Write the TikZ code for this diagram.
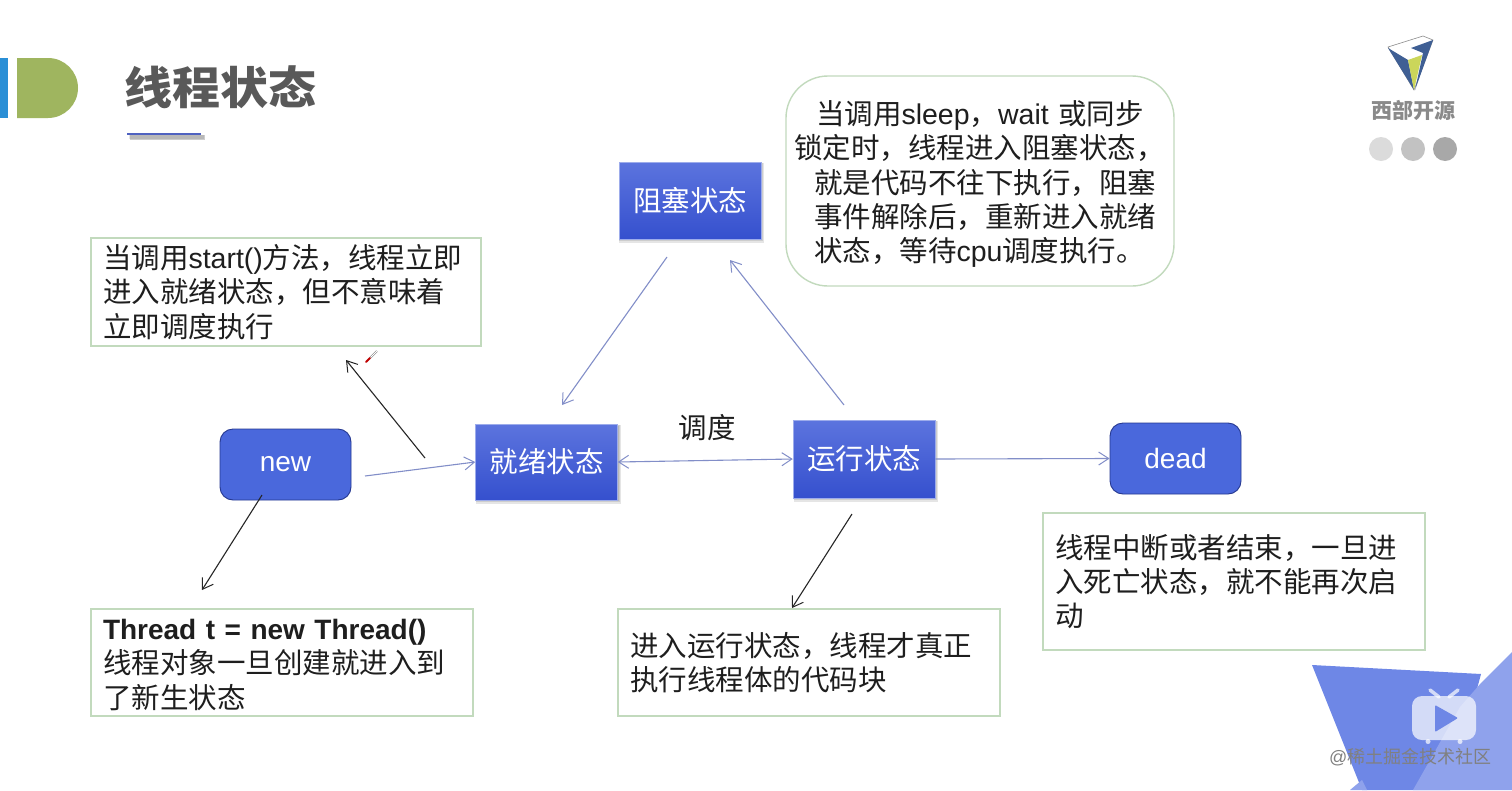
\documentclass[tikz,border=0pt]{standalone}
\usepackage{fontspec}
\setmainfont{Noto Sans CJK SC}
\newfontfamily\lat{Liberation Sans}
\newcommand{\la}[1]{{\lat #1}}
\usetikzlibrary{arrows.meta,calc}
\definecolor{boxline}{HTML}{C2DABD}
\definecolor{flow}{HTML}{828EC8}
\definecolor{txt}{HTML}{1E1E1E}
\definecolor{blueT}{HTML}{5C74DE}
\definecolor{blueB}{HTML}{3550CE}
\definecolor{blueF}{HTML}{4A68DC}
\definecolor{cornerA}{HTML}{6E87E6}
\definecolor{cornerB}{HTML}{8FA2EC}
\definecolor{barblue}{HTML}{2A8FD6}
\definecolor{bargreen}{HTML}{9FB55F}
\definecolor{titlegray}{HTML}{595959}
\definecolor{rule}{HTML}{4F62C0}
\definecolor{logoblue}{HTML}{3F5F94}
\definecolor{logoyellow}{HTML}{CBD65A}
\definecolor{logogray}{HTML}{8A8A8A}
\newcommand{\softshadow}[4]{%
  \foreach \g in {0,1,2,3}{\fill[black,opacity=.1] ({#1+3-\g*.8},{#2+3-\g*.8}) rectangle ({#3+\g*1.0},{#4+\g*1.2});}}
\tikzset{
  barb/.tip={Straight Barb[length=10pt,width=13pt,line width=1pt]},
  flowline/.style={-barb,draw=flow,line width=1.1pt},
  blackline/.style={-barb,draw=black!85,line width=1.1pt},
  statebox/.style={draw=blueT!60,line width=.5pt,top color=blueT,bottom color=blueB,text=white,inner sep=0pt,
     font=\fontsize{28.5}{32}\selectfont,minimum width=142pt,minimum height=77pt},
  roundbox/.style={draw=blueB!70!black,line width=.9pt,fill=blueF,rounded corners=13pt,text=white,inner sep=0pt,
     font=\lat\fontsize{28}{32}\selectfont,minimum width=131pt,minimum height=71pt},
  notebox/.style={draw=boxline,line width=1.4pt,fill=white,align=left,text=txt,inner sep=0pt,
     font=\fontsize{28.5}{34.3}\selectfont},
}
\begin{document}
\begin{tikzpicture}[x=1pt,y=-1pt]
\useasboundingbox (0,0) rectangle (1512,790);
\fill[white] (0,0) rectangle (1512,790);
% header marks
\fill[barblue] (0,58) rectangle (8,118);
\fill[bargreen] (17,58) -- (48,58) arc[start angle=90,end angle=-90,x radius=30,y radius=-30] -- (17,118) -- cycle;
\node[font=\bfseries\fontsize{48}{50}\selectfont,text=titlegray,inner sep=0pt] (title) at (220,87) {\scalebox{1}[.93]{线程状态}};
\foreach \g in {0,1,2}{\fill[black,opacity=.1] ({129+\g*.5},{135-\g*.2}) rectangle ({204+\g*.6},{139+\g*.6});}
\draw[rule,line width=2.2pt] (127,134) -- (201,134);
% logo
\draw[black!45,line width=.6pt,fill=white] (1388,47) -- (1423,36) -- (1433,40) -- (1414,90) -- cycle;
\fill[logoblue] (1388,48) -- (1408,60) -- (1414,90) -- cycle;
\fill[logoyellow] (1408,60) -- (1422,55) -- (1414,90) -- cycle;
\fill[logoblue] (1411,48) -- (1433,40) -- (1415,90) -- (1423,53) -- cycle;
\node[font=\bfseries\fontsize{21}{22}\selectfont,text=logogray,inner sep=0pt] (logotext) at (1413,110) {西部开源};
\fill[black!14] (1381,149) circle[radius=12];
\fill[black!24] (1413,149) circle[radius=12];
\fill[black!34] (1445,149) circle[radius=12];
% corner decoration
\fill[cornerA] (1312,665) -- (1481,674) -- (1450,790) -- (1362,790) -- cycle;
\fill[cornerB] (1512,652) -- (1481,683) -- (1460,707) -- (1413,790) -- (1512,790) -- cycle;
\fill[cornerB] (1350,790) -- (1362,780) -- (1367,790) -- cycle;
\draw[white,opacity=.7,line width=3.5pt,line cap=round] (1430,690) -- (1439,697) (1458,690) -- (1449,697);
\fill[white,opacity=.7,rounded corners=10pt] (1412,696) rectangle (1476,740);
\fill[white,opacity=.7] (1428,741.5) circle[radius=2.5] (1460,741.5) circle[radius=2.5];
\fill[cornerA,rounded corners=1pt] (1435,705) -- (1458,718) -- (1435,732) -- cycle;
\node[font=\fontsize{18}{20}\selectfont,text=black!50,inner sep=0pt,anchor=west] (mark) at (1329,757) {\la{@}稀土掘金技术社区};
% shadows
\softshadow{618}{162}{761}{239}
\softshadow{475}{424}{618}{500}
\softshadow{793}{420}{935}{498}
% states
\node[statebox] (block) at (690,200.5) {阻塞状态};
\node[statebox,minimum height=76pt] (ready) at (546.5,462) {就绪状态};
\node[statebox,minimum height=78pt] (run) at (864,459) {运行状态};
\node[roundbox] (new) at (285.5,464.5) {new};
\node[roundbox] (dead) at (1175.5,458.5) {dead};
\node[font=\fontsize{28.5}{32}\selectfont,text=txt,inner sep=0pt] (sched) at (707,428) {调度};
% notes
\node[notebox,minimum width=390pt,minimum height=108pt,text width=366pt] (nstart) at (286,292)
  {当调用\la{start()}方法，线程立即\\进入就绪状态，但不意味着\\立即调度执行};
\node[notebox,minimum width=382pt,minimum height=107pt,text width=358pt] (nthread) at (282,662.5)
  {\rule{0pt}{25pt}{\lat\bfseries\fontsize{28}{34}\selectfont Thread t = new Thread()}\\线程对象一旦创建就进入到\\了新生状态};
\node[notebox,minimum width=382pt,minimum height=107pt,text width=358pt] (nrun) at (809,662.5)
  {进入运行状态，线程才真正\\执行线程体的代码块};
\node[notebox,minimum width=382pt,minimum height=137pt,text width=358pt] (ndead) at (1234,581.5)
  {线程中断或者结束，一旦进\\入死亡状态，就不能再次启\\动};
\node[notebox,rounded corners=42pt,minimum width=388pt,minimum height=210pt,text width=372pt] (nblock) at (980,181)
  {\rule{0pt}{30pt}\hspace*{22pt}当调用\la{sleep}，\la{wait} 或同步\\锁定时，线程进入阻塞状态，\\\hspace*{20pt}就是代码不往下执行，阻塞\\\hspace*{20pt}事件解除后，重新进入就绪\\\hspace*{20pt}状态，等待\la{cpu}调度执行。};
% free ends
\coordinate (a1) at (667,257); \coordinate (a2) at (562,405);
\coordinate (b1) at (844,405); \coordinate (b2) at (730,260);
\coordinate (c1) at (365,476);
\coordinate (d1) at (425,458); \coordinate (d2) at (346,360);
\coordinate (e1) at (262,495); \coordinate (e2) at (202,590);
\coordinate (f1) at (852,514); \coordinate (f2) at (792,608);
\coordinate (g1) at (377,351); \coordinate (g2) at (366,362);
% connectors
\draw[flowline] (a1) -- (a2);
\draw[flowline] (b1) -- (b2);
\draw[flowline] (c1) -- (ready.west);
\draw[flowline,barb-barb] (ready.east) -- (run.west);
\draw[flowline] (run.east) -- (dead.west);
\draw[blackline] (d1) -- (d2);
\draw[blackline] (e1) -- (e2);
\draw[blackline] (f1) -- (f2);
\draw[black!50,line width=.5pt,double,double distance=1pt] (g1) -- ($(g1)!.65!(g2)$);
\draw[red!75!black,line width=2pt,line cap=round] ($(g1)!.65!(g2)$) -- (g2);
\end{tikzpicture}
\end{document}
